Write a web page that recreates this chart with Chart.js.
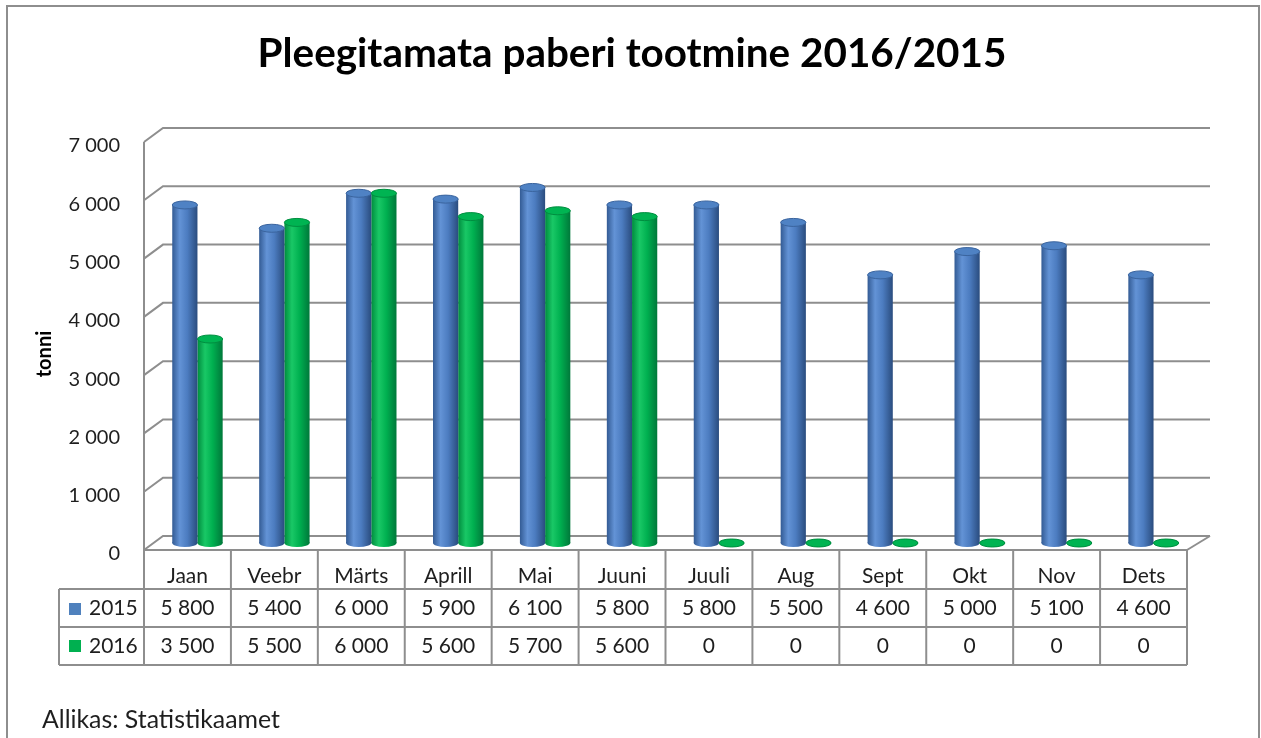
<!DOCTYPE html>
<html><head><meta charset="utf-8">
<script src="https://cdn.jsdelivr.net/npm/chart.js@4.4.1/dist/chart.umd.min.js"></script>
<style>html,body{margin:0;padding:0;background:#fff;overflow:hidden}#wrap{width:1261px;height:738px;position:relative}</style>
</head><body><div id="wrap"><canvas id="c" width="1261" height="738"></canvas></div>
<script>
// ---- data ----
const categories = ['Jaan','Veebr','Märts','Aprill','Mai','Juuni','Juuli','Aug','Sept','Okt','Nov','Dets'];
const series2015 = [5800,5400,6000,5900,6100,5800,5800,5500,4600,5000,5100,4600];
const series2016 = [3500,5500,6000,5600,5700,5600,0,0,0,0,0,0];
const seriesLabels = ['2015','2016'];
const yTicks = [0,1000,2000,3000,4000,5000,6000,7000];
const titleText = 'Pleegitamata paberi tootmine 2016/2015';
const axisTitle = 'tonni';
const sourceText = 'Allikas: Statistikaamet';

// ---- style ----
const FONT = 'Lato, "Open Sans", "DejaVu Sans", sans-serif';
const LINE = '#8e8e8e';
const TEXT = '#1e1e1e';
const DEPTH_X = 19, DEPTH_Y = 14;   // 3D depth of walls
const BAR_SHIFT_X = 10;             // bars sit mid-depth
const BAR_BASE_OFFSET = 11;         // px above front label baseline
const palettes = [
  {edgeL:'#335b94', hi:'#6393d6', mid:'#4c7cc0', edgeR:'#2a4c7e', top:'#4f82c4', topStroke:'#3a649e', legend:'#4f81bd'},
  {edgeL:'#008c3e', hi:'#19c866', mid:'#00b050', edgeR:'#00783a', top:'#00b452', topStroke:'#008e40', legend:'#00b050'}
];
const fmt = v => String(v).replace(/\B(?=(\d{3})+(?!\d))/g, ' ');

function cylGradient(context){
  const chart = context.chart, xs = chart.scales.x, p = palettes[context.datasetIndex];
  if (!xs || context.dataIndex == null || !isFinite(xs.width)) return p.mid;
  const catW = xs.width / categories.length;
  const w = catW * 0.58 / 2;
  const center = xs.getPixelForValue(context.dataIndex);
  const left = center + (context.datasetIndex === 0 ? -w : 0);
  const g = chart.ctx.createLinearGradient(left, 0, left + w, 0);
  g.addColorStop(0, p.edgeL); g.addColorStop(0.3, p.hi); g.addColorStop(0.6, p.mid); g.addColorStop(1, p.edgeR);
  return g;
}

function fitFont(ctx, text, weight, target){
  ctx.font = weight + ' 100px ' + FONT;
  const w = ctx.measureText(text).width;
  return 100 * target / w;
}

const plugin3d = {
  id: 'cyl3d',
  beforeDraw(chart){
    const {ctx} = chart, ys = chart.scales.y, xs = chart.scales.x;
    ctx.save();
    ctx.fillStyle = '#fff'; ctx.fillRect(0,0,chart.width,chart.height);
    // outer frame
    ctx.strokeStyle = LINE; ctx.lineWidth = 2;
    ctx.strokeRect(7, 6, 1252, 800);
    // title
    ctx.fillStyle = '#000'; ctx.textAlign = 'center'; ctx.textBaseline = 'alphabetic';
    const ts = fitFont(ctx, titleText, 'bold', 749);
    ctx.font = 'bold ' + ts + 'px ' + FONT;
    ctx.fillText(titleText, 632, 67);
    // source
    ctx.textAlign = 'left'; ctx.fillStyle = TEXT;
    const ss = fitFont(ctx, sourceText, 'normal', 238);
    ctx.font = ss + 'px ' + FONT;
    ctx.fillText(sourceText, 42, 728);
    // axis title
    ctx.save();
    ctx.translate(45, 354); ctx.rotate(-Math.PI/2);
    ctx.font = 'bold 20px ' + FONT; ctx.textAlign = 'center'; ctx.textBaseline = 'middle';
    ctx.fillStyle = '#000';
    ctx.fillText(axisTitle, 0, 0);
    ctx.restore();
    // back wall gridlines + side wall diagonals
    const L = chart.chartArea.left, R = chart.chartArea.right;
    ctx.strokeStyle = LINE; ctx.lineWidth = 2; ctx.lineCap = 'butt';
    yTicks.forEach(v => {
      const yf = ys.getPixelForValue(v) - 4;
      const yb = yf - DEPTH_Y;
      ctx.beginPath();
      ctx.moveTo(L, yf); ctx.lineTo(L + DEPTH_X, yb); ctx.lineTo(R + DEPTH_X + 4, yb);
      ctx.stroke();
    });
    // floor right diagonal
    const y0 = ys.getPixelForValue(0) - 4;
    ctx.beginPath(); ctx.moveTo(R, y0); ctx.lineTo(R + DEPTH_X + 4, y0 - DEPTH_Y); ctx.stroke();
    ctx.restore();
  },
  beforeDatasetsDraw(chart){
    const {ctx} = chart;
    ctx.save();
    ctx.translate(BAR_SHIFT_X, 0);
    // bottom caps of cylinders
    chart.data.datasets.forEach((ds, di) => {
      const meta = chart.getDatasetMeta(di), p = palettes[di];
      meta.data.forEach(el => {
        const rx = el.width/2;
        ctx.beginPath(); ctx.ellipse(el.x, el.base, rx, 4, 0, 0, Math.PI*2);
        const g = ctx.createLinearGradient(el.x - rx, 0, el.x + rx, 0);
        g.addColorStop(0, p.edgeL); g.addColorStop(0.3, p.hi); g.addColorStop(0.6, p.mid); g.addColorStop(1, p.edgeR);
        ctx.fillStyle = g; ctx.fill();
      });
    });
  },
  afterDatasetsDraw(chart){
    const {ctx} = chart;
    chart.data.datasets.forEach((ds, di) => {
      const meta = chart.getDatasetMeta(di), p = palettes[di];
      meta.data.forEach(el => {
        const rx = el.width/2;
        ctx.beginPath(); ctx.ellipse(el.x, el.y, rx, 4, 0, 0, Math.PI*2);
        ctx.fillStyle = p.top; ctx.fill();
        ctx.strokeStyle = p.topStroke; ctx.lineWidth = 1; ctx.stroke();
      });
    });
    ctx.restore();
  },
  afterDraw(chart){
    const {ctx} = chart, ys = chart.scales.y, xs = chart.scales.x;
    const L = chart.chartArea.left, R = chart.chartArea.right;
    const catW = xs.width / categories.length;
    const yFloor = ys.getPixelForValue(0) - 4;
    const yTop = ys.getPixelForValue(7000) - 4;
    const rowH1 = 589, rowH2 = 627, rowH3 = 665, legL = 59;
    ctx.save();
    ctx.strokeStyle = LINE; ctx.lineWidth = 2;
    // front vertical axis line through to table bottom
    ctx.beginPath(); ctx.moveTo(L, yTop); ctx.lineTo(L, rowH3); ctx.stroke();
    // floor front line
    ctx.beginPath(); ctx.moveTo(L, yFloor); ctx.lineTo(R, yFloor); ctx.stroke();
    // table verticals
    for (let i = 1; i <= categories.length; i++){
      const x = xs.getPixelForValue(i - 1) + catW/2;
      ctx.beginPath(); ctx.moveTo(x, yFloor); ctx.lineTo(x, rowH3); ctx.stroke();
    }
    ctx.beginPath(); ctx.moveTo(legL, rowH1); ctx.lineTo(legL, rowH3); ctx.stroke();
    [rowH1, rowH2, rowH3].forEach(y => { ctx.beginPath(); ctx.moveTo(legL, y); ctx.lineTo(R, y); ctx.stroke(); });
    // texts
    ctx.fillStyle = TEXT; ctx.textAlign = 'center'; ctx.textBaseline = 'alphabetic';
    ctx.font = '21px ' + FONT;
    const rows = [series2015, series2016];
    categories.forEach((c, i) => {
      const x = xs.getPixelForValue(i);
      ctx.fillText(c, x, 583);
      ctx.fillText(fmt(rows[0][i]), x, 615);
      ctx.fillText(fmt(rows[1][i]), x, 653);
    });
    // legend keys
    ctx.textAlign = 'left';
    [[615, 603], [653, 640]].forEach(([base, sq], k) => {
      ctx.fillStyle = palettes[k].legend; ctx.fillRect(69, sq, 12, 12);
      ctx.fillStyle = TEXT; ctx.fillText(seriesLabels[k], 89, base);
    });
    ctx.restore();
  }
};

const AREA_H = 408; // px covering 0..7000 on the label axis
const pxPerUnit = AREA_H / 7000;
const barMin = -BAR_BASE_OFFSET / pxPerUnit;

function build(){
  new Chart(document.getElementById('c'), {
    type: 'bar',
    data: {
      labels: categories,
      datasets: [
        {label: seriesLabels[0], data: series2015, yAxisID: 'yBar', backgroundColor: cylGradient, borderWidth: 0, clip: false},
        {label: seriesLabels[1], data: series2016, yAxisID: 'yBar', backgroundColor: cylGradient, borderWidth: 0, clip: false}
      ]
    },
    options: {
      responsive: false, animation: false, devicePixelRatio: 1,
      layout: {padding: {left: 0, right: 74, top: 146, bottom: 738 - 146 - AREA_H}},
      categoryPercentage: 0.58, barPercentage: 1.0,
      plugins: {legend: {display: false}, tooltip: {enabled: false}, title: {display: false}},
      scales: {
        x: {type: 'category', display: false, offset: true, grid: {display: false}},
        y: {
          position: 'left', min: 0, max: 7000,
          afterFit(s){ s.width = 144; },
          afterBuildTicks(s){ s.ticks = yTicks.map(v => ({value: v})); },
          grid: {display: false, drawTicks: false}, border: {display: false},
          ticks: {padding: 24, color: TEXT, font: {family: FONT, size: 20}, callback: v => fmt(v)}
        },
        yBar: {display: false, min: barMin, max: barMin + 7000}
      }
    },
    plugins: [plugin3d]
  });
}
const loads = [document.fonts.load('bold 30px Lato'), document.fonts.load('20px Lato')];
Promise.race([Promise.all(loads), new Promise(r => setTimeout(r, 800))]).then(build, build);
</script>
</body></html>
